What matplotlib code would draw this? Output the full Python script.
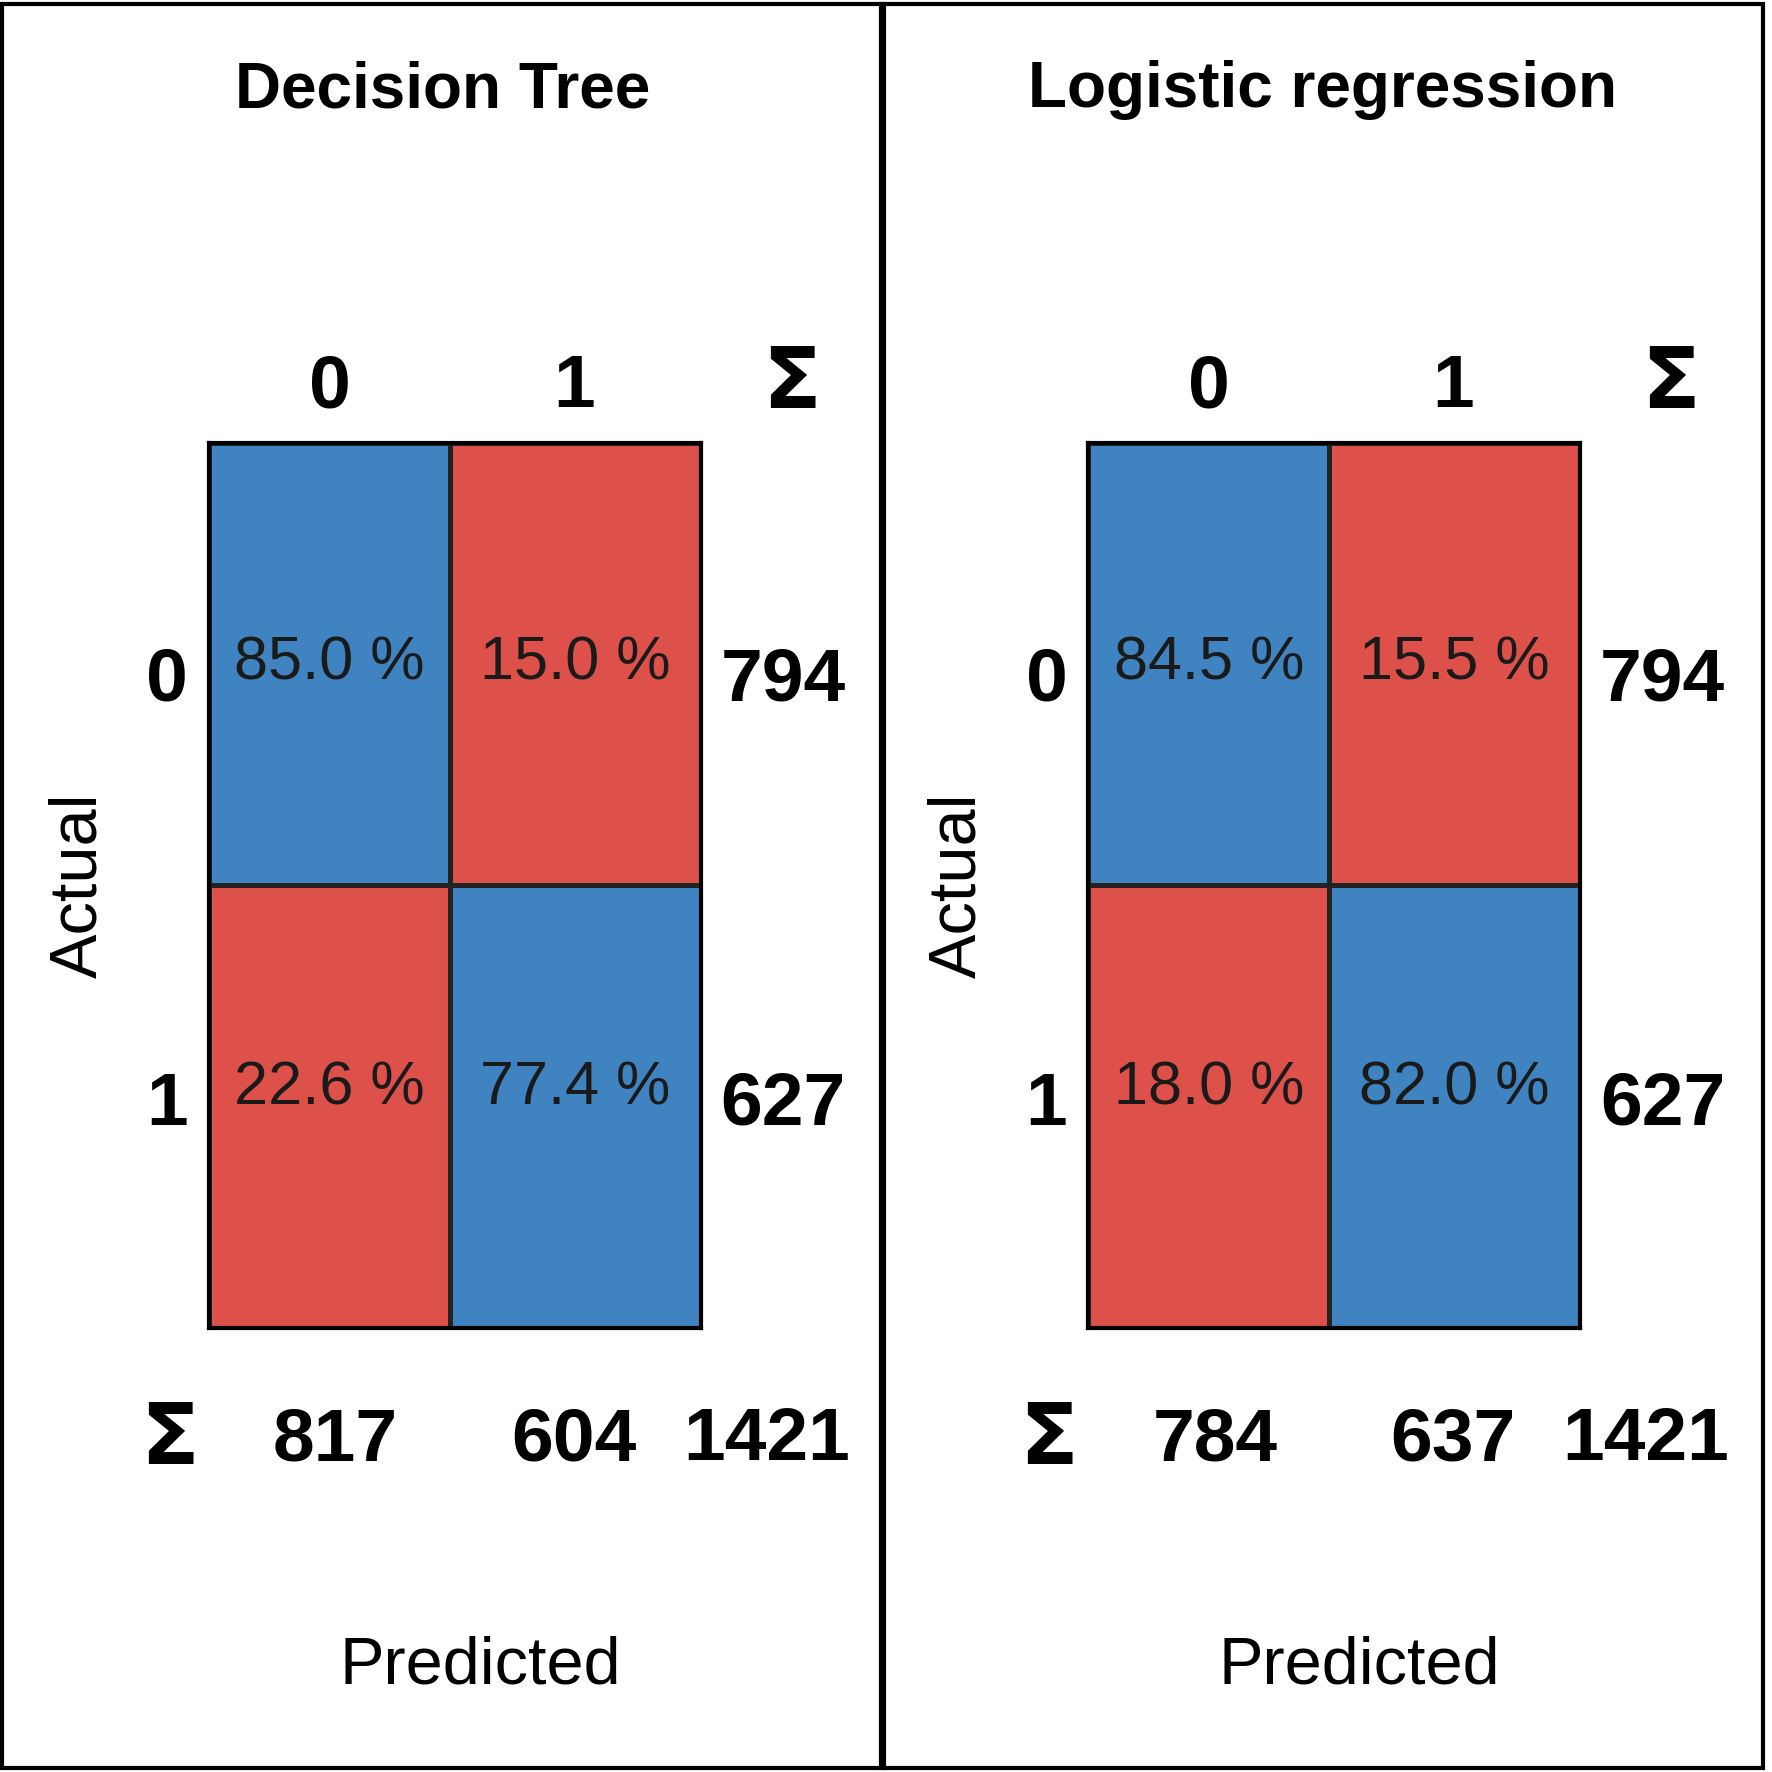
import numpy as np
import matplotlib.pyplot as plt
import matplotlib.patches as mpatches
from matplotlib.colors import ListedColormap

plt.rcParams['font.family'] = ['Liberation Sans Narrow', 'Liberation Sans', 'DejaVu Sans']

titles = ["Decision Tree", "Logistic regression"]
pct = [np.array([[85.0, 15.0], [22.6, 77.4]]),
       np.array([[84.5, 15.5], [18.0, 82.0]])]
row_sums = [[794, 627], [794, 627]]
col_sums = [[817, 604], [784, 637]]
totals = [1421, 1421]
labels = ["0", "1"]

BLUE = "#3F84C0"
RED = "#DE514B"
cmap = ListedColormap([RED, BLUE])

fig = plt.figure(figsize=(17.72, 17.72), dpi=100)
S = 1568.0

for k in range(2):
    off = k * 778
    # panel border
    fig.add_artist(mpatches.Rectangle(((off + 2) / S, 0.002), 780 / S, 0.996,
                                      transform=fig.transFigure, fill=False,
                                      lw=3, ec="black"))
    fig.text((off + 392) / S, 1 - 80 / S, titles[k], ha="center", va="center",
             fontsize=46, fontweight="bold")
    x0, x1, y0, y1 = off + 185, off + 620, 392, 1175
    ax = fig.add_axes([x0 / S, 1 - y1 / S, (x1 - x0) / S, (y1 - y0) / S])
    diag = np.eye(2)  # 1 = correct (blue), 0 = wrong (red)
    ax.pcolormesh([0, 0.49, 1], [1, 0.5, 0], diag, cmap=cmap,
                  edgecolors="#222222", linewidth=2.5, vmin=0, vmax=1)
    ax.set_xlim(0, 1)
    ax.set_ylim(0, 1)
    ax.set_xticks([])
    ax.set_yticks([])
    for s in ax.spines.values():
        s.set_linewidth(3)
    cx = [0.245, 0.745]
    cy = [0.75, 0.27]
    for i in range(2):
        for j in range(2):
            ax.text(cx[j], cy[i], "%.1f %%" % pct[k][i, j], ha="center",
                    va="center", fontsize=44, color="#1a1a1a")
    # headers
    hx = [off + 292, off + 508]
    for j in range(2):
        fig.text(hx[j] / S, 1 - 343 / S, labels[j], ha="center", va="center",
                 fontsize=54, fontweight="bold")
        fig.text(hx[j] / S + (5 if j == 0 else 0) / S, 1 - 1275 / S, str(col_sums[k][j]),
                 ha="center", va="center", fontsize=54, fontweight="bold")
    fig.text((off + 700) / S, 1 - 340 / S, "Σ", ha="center", va="center",
             fontsize=62, fontweight="bold", family="DejaVu Sans")
    ry = [603, 978]
    for i in range(2):
        fig.text((off + 148) / S, 1 - ry[i] / S, labels[i], ha="center",
                 va="center", fontsize=54, fontweight="bold")
        fig.text((off + 693) / S, 1 - ry[i] / S, str(row_sums[k][i]),
                 ha="center", va="center", fontsize=54, fontweight="bold")
    fig.text((off + 150) / S, 1 - 1275 / S, "Σ", ha="center", va="center",
             fontsize=62, fontweight="bold", family="DejaVu Sans")
    fig.text((off + 678) / S, 1 - 1275 / S, str(totals[k]), ha="center",
             va="center", fontsize=54, fontweight="bold")
    fig.text((off + 70) / S, 1 - 783 / S, "Actual", ha="center", va="center",
             rotation=90, fontsize=48)
    fig.text((off + 425) / S, 1 - 1475 / S, "Predicted", ha="center",
             va="center", fontsize=48)

fig.savefig("out.png", dpi=100, facecolor="white")
